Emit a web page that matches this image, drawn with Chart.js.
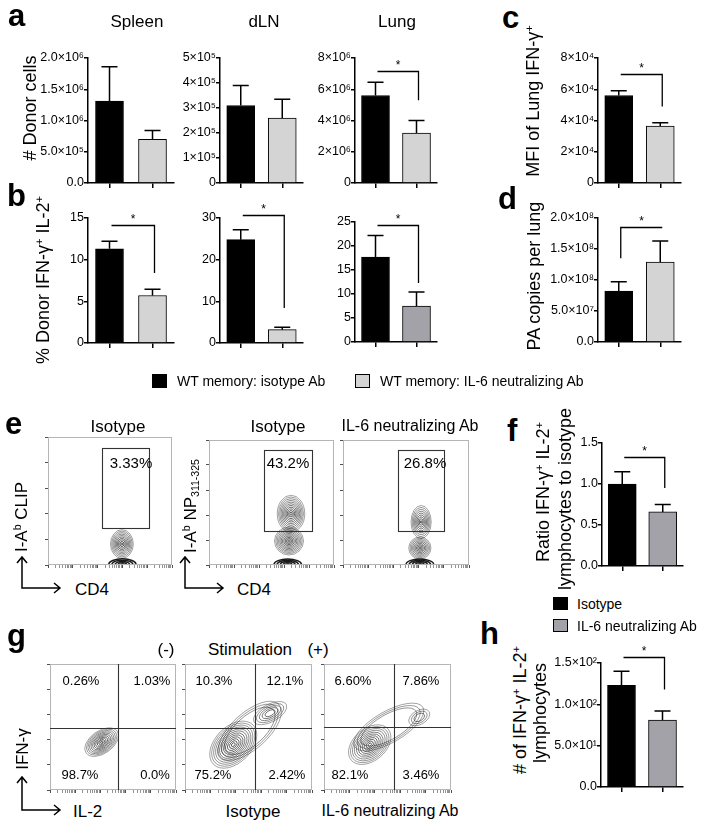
<!DOCTYPE html>
<html><head><meta charset="utf-8">
<script src="https://cdn.jsdelivr.net/npm/chart.js@4/dist/chart.umd.min.js"></script>
<style>
body{margin:0;background:#fff;}
#wrap{position:relative;width:704px;height:828px;overflow:hidden;font-family:"Liberation Sans",Arial,sans-serif;color:#000;background:#fff;}
.t{position:absolute;white-space:nowrap;line-height:1;}
.sup{font-size:0.62em;position:relative;top:-0.55em;}
.sub{font-size:0.62em;position:relative;top:0.3em;}
.sq{position:absolute;box-sizing:border-box;border:1px solid #000;}
canvas{position:absolute;}
svg{position:absolute;left:0;top:0;}
</style></head><body><div id="wrap"></div>
<script>
// ================= DATA =================
const groupLabels = ['WT memory: isotype Ab', 'WT memory: IL-6 neutralizing Ab'];
const groupLabelsF = ['Isotype', 'IL-6 neutralizing Ab'];

// a: # donor cells
const spleenCells = [1.31e6, 0.70e6];
const spleenCellsErr = [0.55e6, 0.14e6];
const dlnCells = [3.1e5, 2.6e5];
const dlnCellsErr = [0.8e5, 0.75e5];
const lungCells = [5.6e6, 3.2e6];
const lungCellsErr = [0.85e6, 0.8e6];
const lungCellsSig = [7.2e6, 5.3e6];
// c: MFI of lung IFN-g+
const lungMFI = [5.6e4, 3.65e4];
const lungMFIErr = [0.3e4, 0.2e4];
const lungMFISig = [7.0e4, 4.9e4];
// b: % donor IFN-g+ IL-2+
const spleenPct = [11.3, 5.7];
const spleenPctErr = [0.9, 0.75];
const spleenPctSig = [14.2, 8.4];
const dlnPct = [24.8, 3.2];
const dlnPctErr = [2.4, 0.6];
const dlnPctSig = [30.7, 8.4];
const lungPct = [17.7, 7.5];
const lungPctErr = [4.5, 2.9];
const lungPctSig = [24.4, 12.3];
// d: PA copies per lung
const paCopies = [0.82e8, 1.29e8];
const paCopiesErr = [0.15e8, 0.34e8];
const paCopiesSig = [1.85e8, 1.35e8];
// f: ratio
const ratioF = [1.0, 0.66];
const ratioFErr = [0.15, 0.09];
const ratioFSig = [1.33, 0.95];
// h: counts
const countH = [123, 81];
const countHErr = [17, 11];
const countHSig = [157, 118];

// tick labels
const spleenCellsTicks = ['0.0', '5.0×10⁵', '1.0×10⁶', '1.5×10⁶', '2.0×10⁶'];
const dlnCellsTicks = ['0', '1×10⁵', '2×10⁵', '3×10⁵', '4×10⁵', '5×10⁵'];
const lungCellsTicks = ['0', '2×10⁶', '4×10⁶', '6×10⁶', '8×10⁶'];
const mfiTicks = ['0', '2×10⁴', '4×10⁴', '6×10⁴', '8×10⁴'];
const spleenPctTicks = ['0', '5', '10', '15'];
const dlnPctTicks = ['0', '10', '20', '30'];
const lungPctTicks = ['0', '5', '10', '15', '20', '25'];
const paTicks = ['0.0', '5.0×10⁷', '1.0×10⁸', '1.5×10⁸', '2.0×10⁸'];
const ratioTicks = ['0.0', '0.5', '1.0', '1.5'];
const countTicks = ['0.0', '5.0×10¹', '1.0×10²', '1.5×10²'];
const tickMax = {spleenCells:2e6, dlnCells:5e5, lungCells:8e6, mfi:8e4, spleenPct:15, dlnPct:30, lungPct:25, pa:2e8, ratio:1.5, count:150};

// e: flow gates [xmin,xmax,ymin,ymax] in decades, percentages, populations
const eGates = [[2.18, 4.07, 1.45, 4.57], [2.2, 4.12, 1.36, 4.6], [2.18, 4.0, 1.36, 4.6]];
const ePct = ['3.33%', '43.2%', '26.8%'];
const ePops1 = [{x:2.98, y:0.82, a:0.46, b:0.56, n:10}, {x:3.0, y:0.02, a:0.55, b:0.22, n:5, dark:true}];
const ePops2 = [{x:3.28, y:2.05, a:0.55, b:0.74, n:11}, {x:3.2, y:0.96, a:0.58, b:0.56, n:11}, {x:3.15, y:0.02, a:0.55, b:0.22, n:5, dark:true}];
const ePops3 = [{x:3.1, y:1.72, a:0.4, b:0.66, n:9}, {x:3.05, y:0.68, a:0.44, b:0.44, n:9}, {x:3.05, y:0.02, a:0.55, b:0.22, n:5, dark:true}];
// g: quadrant positions [x, y], quadrant percentages [UL, UR, LL, LR], populations
const gQuad = [[2.7, 2.46], [2.74, 2.46], [2.74, 2.5]];
const gPct = [['0.26%', '1.03%', '98.7%', '0.0%'], ['10.3%', '12.1%', '75.2%', '2.42%'], ['6.60%', '7.86%', '82.1%', '3.46%']];
const gPops1 = [{x:2.05, y:1.9, a:0.75, b:0.45, rot:35, n:11}];
const gPops2 = [{x:1.9, y:1.8, a:1.1, b:0.72, rot:45, n:12}, {x:3.35, y:3.05, a:0.72, b:0.35, rot:28, n:5, r0:0.3}, {x:2.55, y:2.35, a:1.55, b:0.72, rot:42, n:3, r0:0.8}];
const gPops3 = [{x:1.8, y:1.8, a:0.95, b:0.64, rot:40, n:11}, {x:3.75, y:2.88, a:0.45, b:0.28, rot:30, n:3, r0:0.5}, {x:2.55, y:2.5, a:1.55, b:0.62, rot:30, n:3, r0:0.8}];

// ================= RENDER =================
const family = '"Liberation Sans", Arial, sans-serif';
const wrap = document.getElementById('wrap');
const BLACK = '#000000', LIGHT = '#d4d4d4', MID = '#a2a2a8';

function txt(html, x, y, size, o = {}) {
  const d = document.createElement('div');
  d.className = 't';
  d.innerHTML = html;
  d.style.left = x + 'px';
  d.style.top = y + 'px';
  d.style.fontSize = size + 'px';
  if (o.bold) d.style.fontWeight = 'bold';
  if (o.rot) d.style.transform = 'translate(-50%,-50%) rotate(-90deg)';
  else if (o.abs) d.style.transform = 'none';
  else if (o.left) d.style.transform = 'translate(0,-50%)';
  else d.style.transform = 'translate(-50%,-50%)';
  wrap.appendChild(d);
}
function sq(x, y, w, h, color) {
  const d = document.createElement('div');
  d.className = 'sq';
  d.style.cssText = `left:${x}px;top:${y}px;width:${w}px;height:${h}px;background:${color};`;
  wrap.appendChild(d);
}

const errPlugin = {
  id: 'errbars',
  afterDatasetsDraw(chart) {
    const ctx = chart.ctx, ys = chart.scales.y;
    chart.data.datasets.forEach((ds, di) => {
      if (!ds.errs) return;
      chart.getDatasetMeta(di).data.forEach((bar, i) => {
        const x = bar.x;
        const y0 = ys.getPixelForValue(ds.data[i]);
        const y1 = ys.getPixelForValue(ds.data[i] + ds.errs[i]);
        const cap = 8;
        ctx.save();
        ctx.strokeStyle = '#000'; ctx.lineWidth = 1.5;
        ctx.beginPath();
        ctx.moveTo(x, y0); ctx.lineTo(x, y1);
        ctx.moveTo(x - cap, y1); ctx.lineTo(x + cap, y1);
        ctx.stroke();
        ctx.restore();
      });
    });
  }
};
const sigPlugin = {
  id: 'sig',
  afterDatasetsDraw(chart, args, opts) {
    if (!opts || opts.at == null) return;
    const ctx = chart.ctx, ys = chart.scales.y, meta = chart.getDatasetMeta(0);
    const x0 = meta.data[0].x + 2, x1 = meta.data[1].x + 2;
    const y = Math.round(ys.getPixelForValue(opts.at)) + 0.5;
    const yd = ys.getPixelForValue(opts.drop);
    ctx.save();
    ctx.strokeStyle = '#000'; ctx.lineWidth = 1.3;
    ctx.beginPath();
    if (opts.side === 'left') { ctx.moveTo(x0, yd); ctx.lineTo(x0, y); ctx.lineTo(x1, y); }
    else { ctx.moveTo(x0, y); ctx.lineTo(x1, y); ctx.lineTo(x1, yd); }
    ctx.stroke();
    ctx.fillStyle = '#000'; ctx.font = '12px ' + family;
    ctx.textAlign = 'center'; ctx.textBaseline = 'alphabetic';
    ctx.fillText('*', (x0 + x1) / 2, y - 3);
    ctx.restore();
  }
};

function barChart(p) {
  const PADT = 30, XH = 8, YW = 64, PADR = 4;
  const left = p.axisX - YW, w = p.right - left + PADR, h = p.bottom - p.top + PADT + XH;
  const cv = document.createElement('canvas');
  cv.width = w; cv.height = h;
  cv.style.left = left + 'px'; cv.style.top = (p.top - PADT) + 'px';
  wrap.appendChild(cv);
  const step = p.max / (p.ticks.length - 1);
  new Chart(cv, {
    type: 'bar',
    data: { labels: p.labels, datasets: [{ data: p.values, errs: p.errs, backgroundColor: p.colors, borderColor: '#000', borderWidth: 1, barThickness: 28 }] },
    options: {
      responsive: false, animation: false, devicePixelRatio: 1,
      layout: { padding: { top: PADT, right: PADR, left: 0, bottom: 0 } },
      plugins: { legend: { display: false }, tooltip: { enabled: false }, sig: p.sig ? { at: p.sig[0], drop: p.sig[1], side: p.side || 'right' } : {} },
      scales: {
        x: { type: 'category', offset: true,
          grid: { offset: false, drawOnChartArea: false, drawTicks: true, tickLength: 5, color: '#000', lineWidth: 1.5 },
          border: { display: true, color: '#000', width: 1.5 },
          ticks: { display: false },
          afterFit: s => { s.height = XH; } },
        y: { min: 0, max: p.max,
          afterBuildTicks: s => { s.ticks = p.ticks.map((_, i) => ({ value: i * step })); },
          ticks: { callback: (v, i) => p.ticks[i], color: '#000', font: { family, size: 12.5 }, padding: 0 },
          grid: { drawOnChartArea: false, tickLength: 4, color: '#000', lineWidth: 1.5 },
          border: { color: '#000', width: 1.5 },
          afterFit: s => { s.width = YW; } }
      }
    },
    plugins: [errPlugin, sigPlugin]
  });
}

const flowPlugin = {
  id: 'flow',
  afterDatasetsDraw(chart, args, o) {
    const ctx = chart.ctx, ca = chart.chartArea, xs = chart.scales.x, ys = chart.scales.y;
    const ux = xs.getPixelForValue(1) - xs.getPixelForValue(0);
    const uy = ys.getPixelForValue(0) - ys.getPixelForValue(1);
    ctx.save();
    ctx.beginPath(); ctx.rect(ca.left, ca.top, ca.right - ca.left, ca.bottom - ca.top); ctx.clip();
    (o.pops || []).forEach(p => {
      const cx = xs.getPixelForValue(p.x), cy = ys.getPixelForValue(p.y);
      const r0 = p.r0 != null ? p.r0 : 0.08;
      for (let k = 0; k < p.n; k++) {
        const f = r0 + (1 - r0) * (p.n > 1 ? k / (p.n - 1) : 1);
        ctx.beginPath();
        ctx.ellipse(cx, cy, Math.max(0.5, p.a * f * ux), Math.max(0.5, p.b * f * uy), -(p.rot || 0) * Math.PI / 180, 0, Math.PI * 2);
        ctx.strokeStyle = p.dark ? 'rgba(15,15,15,0.95)' : `rgba(25,25,25,${0.5 + 0.45 * (1 - f)})`;
        ctx.lineWidth = p.dark ? 1.5 : 0.8;
        ctx.stroke();
      }
    });
    ctx.restore();
    ctx.save();
    ctx.strokeStyle = '#b5b5b5'; ctx.lineWidth = 1;
    ctx.strokeRect(Math.round(ca.left) + 0.5, Math.round(ca.top) + 0.5, Math.round(ca.right - ca.left) - 1, Math.round(ca.bottom - ca.top) - 1);
    ctx.strokeStyle = '#333'; ctx.lineWidth = 1.1;
    if (o.gate) {
      const g = o.gate;
      const x0 = xs.getPixelForValue(g[0]), x1 = xs.getPixelForValue(g[1]);
      const y0 = ys.getPixelForValue(g[3]), y1 = ys.getPixelForValue(g[2]);
      ctx.strokeRect(Math.round(x0) + 0.5, Math.round(y0) + 0.5, Math.round(x1 - x0), Math.round(y1 - y0));
    }
    if (o.quad) {
      const qx = Math.round(xs.getPixelForValue(o.quad[0])) + 0.5, qy = Math.round(ys.getPixelForValue(o.quad[1])) + 0.5;
      ctx.beginPath();
      ctx.moveTo(qx, ca.top); ctx.lineTo(qx, ca.bottom);
      ctx.moveTo(ca.left, qy); ctx.lineTo(ca.right, qy);
      ctx.stroke();
    }
    ctx.restore();
  }
};
function decadeTicks(minor) {
  const t = [];
  for (let d = 0; d <= 5; d++) {
    t.push({ value: d, major: true });
    if (minor && d < 5) for (let k = 2; k <= 9; k++) t.push({ value: d + Math.log10(k), major: false });
  }
  return t;
}
function flowChart(p) {
  const YW = 5, XH = 5, PT = 2, PR = 2;
  const left = p.l - YW, top = p.t - PT, w = p.r - p.l + YW + PR, h = p.b - p.t + PT + XH;
  const cv = document.createElement('canvas');
  cv.width = w; cv.height = h;
  cv.style.left = left + 'px'; cv.style.top = top + 'px';
  wrap.appendChild(cv);
  const tickColor = c => (c.tick && c.tick.major === false) ? '#777' : '#222';
  new Chart(cv, {
    type: 'scatter',
    data: { datasets: [{ data: [], pointRadius: 0 }] },
    options: {
      responsive: false, animation: false, devicePixelRatio: 1,
      layout: { padding: { top: PT, right: PR, left: 0, bottom: 0 } },
      plugins: { legend: { display: false }, tooltip: { enabled: false }, flow: { gate: p.gate, quad: p.quad, pops: p.pops } },
      scales: {
        x: { type: 'linear', min: 0, max: 5, afterBuildTicks: s => { s.ticks = decadeTicks(true); },
          ticks: { display: false }, border: { display: false },
          grid: { drawOnChartArea: false, tickLength: 3, color: tickColor, lineWidth: 0.8 },
          afterFit: s => { s.height = XH; } },
        y: { min: 0, max: 5, afterBuildTicks: s => { s.ticks = decadeTicks(false); },
          ticks: { display: false }, border: { display: false },
          grid: { drawOnChartArea: false, tickLength: 3, color: tickColor, lineWidth: 0.8 },
          afterFit: s => { s.width = YW; } }
      }
    },
    plugins: [flowPlugin]
  });
}

// ---------- panel a ----------
barChart({ axisX: 88, top: 58, bottom: 183, right: 174, max: tickMax.spleenCells, ticks: spleenCellsTicks, labels: groupLabels, values: spleenCells, errs: spleenCellsErr, colors: [BLACK, LIGHT] });
barChart({ axisX: 220, top: 58, bottom: 183, right: 303, max: tickMax.dlnCells, ticks: dlnCellsTicks, labels: groupLabels, values: dlnCells, errs: dlnCellsErr, colors: [BLACK, LIGHT] });
barChart({ axisX: 355, top: 58, bottom: 183, right: 437, max: tickMax.lungCells, ticks: lungCellsTicks, labels: groupLabels, values: lungCells, errs: lungCellsErr, colors: [BLACK, LIGHT], sig: lungCellsSig });
// ---------- panel c ----------
barChart({ axisX: 598, top: 58, bottom: 183, right: 681, max: tickMax.mfi, ticks: mfiTicks, labels: groupLabels, values: lungMFI, errs: lungMFIErr, colors: [BLACK, LIGHT], sig: lungMFISig });
// ---------- panel b ----------
barChart({ axisX: 88, top: 218, bottom: 343, right: 174, max: tickMax.spleenPct, ticks: spleenPctTicks, labels: groupLabels, values: spleenPct, errs: spleenPctErr, colors: [BLACK, LIGHT], sig: spleenPctSig });
barChart({ axisX: 220, top: 218, bottom: 343, right: 303, max: tickMax.dlnPct, ticks: dlnPctTicks, labels: groupLabels, values: dlnPct, errs: dlnPctErr, colors: [BLACK, LIGHT], sig: dlnPctSig });
barChart({ axisX: 355, top: 222, bottom: 342, right: 437, max: tickMax.lungPct, ticks: lungPctTicks, labels: groupLabels, values: lungPct, errs: lungPctErr, colors: [BLACK, MID], sig: lungPctSig });
// ---------- panel d ----------
barChart({ axisX: 598, top: 218, bottom: 342, right: 681, max: tickMax.pa, ticks: paTicks, labels: groupLabels, values: paCopies, errs: paCopiesErr, colors: [BLACK, LIGHT], sig: paCopiesSig, side: 'left' });
// ---------- panel f ----------
barChart({ axisX: 602, top: 443, bottom: 566, right: 683, max: tickMax.ratio, ticks: ratioTicks, labels: groupLabelsF, values: ratioF, errs: ratioFErr, colors: [BLACK, MID], sig: ratioFSig });
// ---------- panel h ----------
barChart({ axisX: 601, top: 663, bottom: 787, right: 683, max: tickMax.count, ticks: countTicks, labels: groupLabelsF, values: countH, errs: countHErr, colors: [BLACK, MID], sig: countHSig });

// ---------- panel e ----------
flowChart({ l: 48, t: 437, r: 172, b: 565, gate: eGates[0], pops: ePops1 });
flowChart({ l: 209, t: 440, r: 334, b: 565, gate: eGates[1], pops: ePops2 });
flowChart({ l: 343, t: 440, r: 469, b: 565, gate: eGates[2], pops: ePops3 });
// ---------- panel g ----------
flowChart({ l: 50, t: 664, r: 176, b: 790, quad: gQuad[0], pops: gPops1 });
flowChart({ l: 185, t: 664, r: 312, b: 790, quad: gQuad[1], pops: gPops2 });
flowChart({ l: 324, t: 664, r: 451, b: 790, quad: gQuad[2], pops: gPops3 });

// ---------- text ----------
const S = s => `<span class="sup">${s}</span>`;
const B = s => `<span class="sub">${s}</span>`;
// panel letters
[['a', 8, 0], ['b', 7, 180], ['c', 502, 2], ['d', 498, 183], ['e', 5, 408], ['f', 507, 415], ['g', 7, 620], ['h', 480, 618]]
  .forEach(([l, x, y]) => txt(l, x, y, 31, { bold: true, abs: true }));
// titles
txt('Spleen', 137, 21, 17); txt('dLN', 264, 21, 17); txt('Lung', 397, 21, 17);
// axis titles
txt('# Donor cells', 30, 108, 18, { rot: true });
txt('% Donor IFN-γ' + S('+') + ' IL-2' + S('+'), 43, 280, 18, { rot: true });
txt('MFI of Lung IFN-γ' + S('+'), 533, 101, 18, { rot: true });
txt('PA copies per lung', 534, 276, 18, { rot: true });
txt('Ratio IFN-γ' + S('+') + ' IL-2' + S('+'), 543, 492, 18, { rot: true });
txt('lymphocytes to isotype', 565, 499, 18, { rot: true });
txt('# of IFN-γ' + S('+') + ' IL-2' + S('+'), 520, 710, 18, { rot: true });
txt('lymphocytes', 540, 713, 18, { rot: true });
// main legend
sq(152, 374, 15, 14, BLACK); txt(groupLabels[0], 177, 381, 14, { left: true });
sq(355, 374, 15, 14, LIGHT); txt(groupLabels[1], 380, 381, 14, { left: true });
// f legend
sq(553, 597, 15, 13, BLACK); txt(groupLabelsF[0], 577, 604, 14, { left: true });
sq(553, 619, 15, 13, MID); txt(groupLabelsF[1], 577, 626, 14, { left: true });
// e texts
txt('Isotype', 118, 426, 17); txt('Isotype', 278, 426, 17); txt('IL-6 neutralizing Ab', 410, 426, 16);
txt(ePct[0], 131, 462, 15); txt(ePct[1], 288, 462, 15); txt(ePct[2], 425, 462, 15);
txt('I-A' + S('b') + ' CLIP', 21, 517, 17, { rot: true });
txt('I-A' + S('b') + ' NP' + B('311-325'), 190, 506, 17, { rot: true });
txt('CD4', 75, 589, 17, { left: true }); txt('CD4', 237, 589, 17, { left: true });
// g texts
txt('(-)', 166, 649, 17); txt('Stimulation', 250, 649, 17); txt('(+)', 318, 649, 17);
const gPos = [[81, 152, 80, 155], [214, 285, 213, 287], [353, 421, 350, 421]];
gPct.forEach((q, i) => {
  txt(q[0], gPos[i][0], 680, 13); txt(q[1], gPos[i][1], 680, 13);
  txt(q[2], gPos[i][2], 774, 13); txt(q[3], gPos[i][3], 774, 13);
});
txt('IFN-γ', 22, 749, 17, { rot: true });
txt('IL-2', 73, 811, 17, { left: true });
txt('Isotype', 253, 811, 17); txt('IL-6 neutralizing Ab', 390, 811, 16);

// axis arrows
const svgNS = 'http://www.w3.org/2000/svg';
const svg = document.createElementNS(svgNS, 'svg');
svg.setAttribute('width', 704); svg.setAttribute('height', 828);
const arrows = [[22, 588, 557, 60], [185, 588, 557, 223], [22, 810, 777, 60]];
let dstr = '';
arrows.forEach(([x, y, yTop, xR]) => {
  dstr += `M${x} ${yTop}V${y}H${xR} M${x - 5} ${yTop + 6}L${x} ${yTop}L${x + 5} ${yTop + 6} M${xR - 6} ${y - 5}L${xR} ${y}L${xR - 6} ${y + 5} `;
});
const path = document.createElementNS(svgNS, 'path');
path.setAttribute('d', dstr); path.setAttribute('fill', 'none'); path.setAttribute('stroke', '#000'); path.setAttribute('stroke-width', '1.5');
svg.appendChild(path);
wrap.appendChild(svg);
</script>
</body></html>
